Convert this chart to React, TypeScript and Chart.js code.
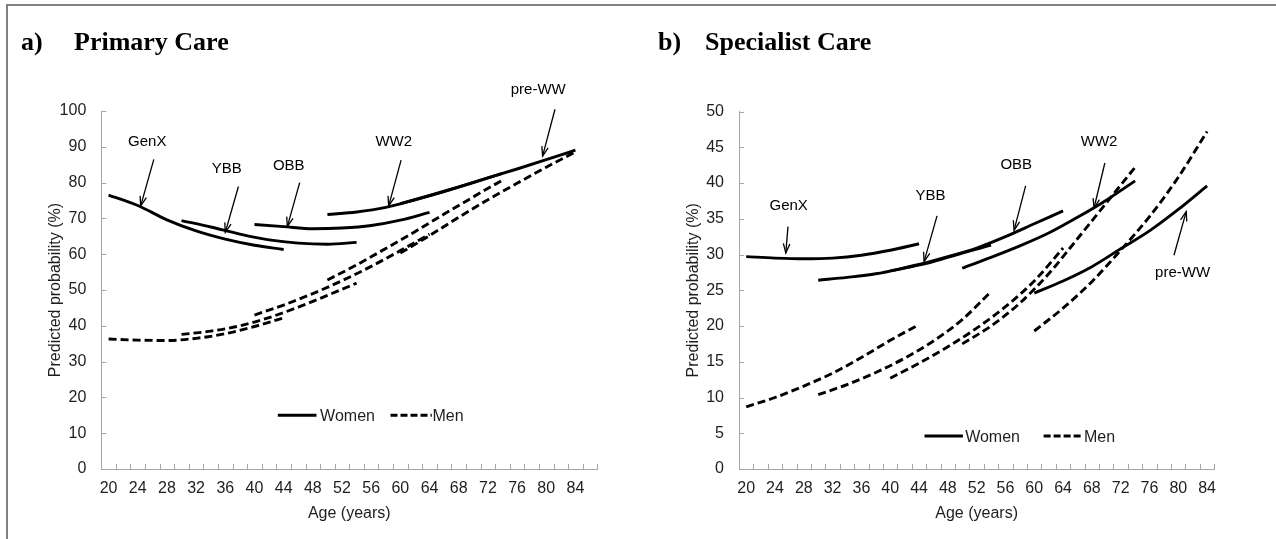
import React, { useEffect, useRef } from "react";
import { Chart, registerables } from "chart.js";
Chart.register(...registerables);

// ---------- data ----------
const COHORTS = ["GenX", "YBB", "OBB", "WW2", "pre-WW"];

const AGES_GENX = [20, 24, 28, 32, 36, 40, 44];
const AGES_YBB = [30, 34, 38, 42, 46, 50, 54];
const AGES_OBB = [40, 44, 48, 52, 56, 60, 64];
const AGES_WW2 = [50, 54, 58, 62, 66, 70, 74];
const AGES_PREWW = [60, 64, 68, 72, 76, 80, 84];

// a) Primary care — women
const PC_WOMEN_GENX = [76.5, 73.6, 69.6, 66.5, 64.2, 62.5, 61.3];
const PC_WOMEN_YBB = [69.4, 67.6, 65.6, 64.0, 63.1, 62.8, 63.3];
const PC_WOMEN_OBB = [68.3, 67.7, 67.1, 67.3, 68.0, 69.5, 71.7];
const PC_WOMEN_WW2 = [71.1, 71.8, 73.1, 75.2, 77.5, 80.0, 82.6];
const PC_WOMEN_PREWW = [74.1, 76.4, 78.8, 81.3, 83.8, 86.4, 89.1];
// a) Primary care — men
const PC_MEN_GENX = [36.3, 36.0, 35.9, 36.5, 37.8, 39.8, 42.2];
const PC_MEN_YBB = [37.6, 38.5, 40.0, 42.3, 45.2, 48.5, 51.9];
const PC_MEN_OBB = [43.0, 45.8, 49.0, 52.6, 56.6, 61.0, 65.6];
const PC_MEN_WW2 = [52.8, 57.0, 61.6, 66.3, 71.2, 76.0, 80.7];
const PC_MEN_PREWW = [60.3, 65.2, 70.3, 75.2, 79.8, 84.3, 88.6];

// b) Specialist care — women
const SC_WOMEN_GENX = [29.7, 29.5, 29.4, 29.5, 29.9, 30.6, 31.5];
const SC_WOMEN_YBB = [26.4, 26.8, 27.3, 28.1, 29.0, 30.2, 31.3];
const SC_WOMEN_OBB = [27.7, 28.6, 29.7, 30.9, 32.5, 34.3, 36.1];
const SC_WOMEN_WW2 = [28.1, 29.6, 31.2, 33.0, 35.2, 37.6, 40.3];
const SC_WOMEN_PREWW = [24.6, 26.3, 28.3, 30.8, 33.3, 36.3, 39.6];
// b) Specialist care — men
const SC_MEN_GENX = [8.7, 10.0, 11.6, 13.4, 15.6, 18.0, 20.2];
const SC_MEN_YBB = [10.4, 11.8, 13.5, 15.5, 17.9, 20.9, 24.8];
const SC_MEN_OBB = [12.7, 14.8, 17.1, 19.7, 22.7, 26.3, 30.9];
const SC_MEN_WW2 = [17.5, 20.0, 23.2, 27.3, 32.2, 37.2, 42.2];
const SC_MEN_PREWW = [19.3, 22.5, 26.2, 30.6, 35.3, 40.8, 47.2];

// axes
const X_TICK_LABELS = [20, 24, 28, 32, 36, 40, 44, 48, 52, 56, 60, 64, 68, 72, 76, 80, 84];
const Y_TICKS_A = [0, 10, 20, 30, 40, 50, 60, 70, 80, 90, 100];
const Y_TICKS_B = [0, 5, 10, 15, 20, 25, 30, 35, 40, 45, 50];

// cohort call-outs: [text age, text value], arrow from -> to (data coordinates)
const ANNOT_A = [
  { text: [25.3, 91.4], from: [26.2, 86.5], to: [24.4, 73.5] },
  { text: [36.2, 83.7], from: [37.8, 78.9], to: [36.0, 66.1] },
  { text: [44.7, 84.6], from: [46.2, 80.0], to: [44.5, 67.7] },
  { text: [59.1, 91.4], from: [60.1, 86.3], to: [58.4, 73.5] },
  { text: [78.9, 105.9], from: [81.2, 100.5], to: [79.5, 87.4] },
];
const ANNOT_B = [
  { text: [25.9, 36.8], from: [25.8, 33.9], to: [25.5, 30.2] },
  { text: [45.6, 38.2], from: [46.5, 35.4], to: [44.7, 29.0] },
  { text: [57.5, 42.5], from: [58.8, 39.6], to: [57.2, 33.4] },
  { text: [69.0, 45.8], from: [69.8, 42.8], to: [68.3, 36.5] },
  { text: [80.6, 27.4], from: [79.4, 29.9], to: [81.1, 36.0] },
];

const AXIS_COLOR = "#a6a6a6";
const TEXT_COLOR = "#1e1e1e";
const SANS = "'Liberation Sans', Arial, sans-serif";
const SERIF = "'Liberation Serif', 'Times New Roman', serif";

type Ann = { text: number[]; from: number[]; to: number[] };
type Spec = {
  women: number[][];
  men: number[][];
  yMax: number;
  yStep: number;
  yTicks: number[];
  xMax: number;
  pad: { left: number; top: number; right: number };
  annots: Ann[];
  legend: { y: number; w: number[]; wText: number; m: number[]; mText: number };
};

const AGES = [AGES_GENX, AGES_YBB, AGES_OBB, AGES_WW2, AGES_PREWW];

function buildDatasets(women: number[][], men: number[][]) {
  const out: any[] = [];
  COHORTS.forEach((c, i) => {
    out.push({
      label: c + " Women",
      data: AGES[i].map((a, j) => ({ x: a, y: women[i][j] })),
      borderColor: "#000",
      borderWidth: 2.9,
      borderDash: [],
      pointRadius: 0,
      fill: false,
      cubicInterpolationMode: "monotone",
    });
    out.push({
      label: c + " Men",
      data: AGES[i].map((a, j) => ({ x: a, y: men[i][j] })),
      borderColor: "#000",
      borderWidth: 2.9,
      borderDash: [8, 4],
      pointRadius: 0,
      fill: false,
      cubicInterpolationMode: "monotone",
    });
  });
  return out;
}

const SPEC_A: Spec = {
  women: [PC_WOMEN_GENX, PC_WOMEN_YBB, PC_WOMEN_OBB, PC_WOMEN_WW2, PC_WOMEN_PREWW],
  men: [PC_MEN_GENX, PC_MEN_YBB, PC_MEN_OBB, PC_MEN_WW2, PC_MEN_PREWW],
  yMax: 100,
  yStep: 10,
  yTicks: Y_TICKS_A,
  xMax: 87,
  pad: { left: 101.3, top: 111, right: 40.7 },
  annots: ANNOT_A,
  legend: { y: 15.0, w: [43.2, 48.5], wText: 49.0, m: [58.65, 64.3], mText: 64.4 },
};

const SPEC_B: Spec = {
  women: [SC_WOMEN_GENX, SC_WOMEN_YBB, SC_WOMEN_OBB, SC_WOMEN_WW2, SC_WOMEN_PREWW],
  men: [SC_MEN_GENX, SC_MEN_YBB, SC_MEN_OBB, SC_MEN_WW2, SC_MEN_PREWW],
  yMax: 50,
  yStep: 5,
  yTicks: Y_TICKS_B,
  xMax: 85,
  pad: { left: 101, top: 111.5, right: 61.7 },
  annots: ANNOT_B,
  legend: { y: 4.6, w: [44.76, 50.1], wText: 50.4, m: [61.3, 66.6], mText: 66.9 },
};

function Panel({ spec, left }: { spec: Spec; left: number }) {
  const ref = useRef<HTMLCanvasElement>(null);
  useEffect(() => {
    const canvas = ref.current!;
    const overlay = {
      id: "overlay",
      afterDraw(chart: any) {
        const { ctx, chartArea } = chart;
        const xs = chart.scales.x;
        const ys = chart.scales.y;
        ctx.save();
        // inside tick marks
        ctx.strokeStyle = AXIS_COLOR;
        ctx.lineWidth = 1;
        ctx.beginPath();
        for (let v = 21; v <= spec.xMax; v += 2) {
          const px = Math.round(xs.getPixelForValue(v)) + 0.5;
          ctx.moveTo(px, chartArea.bottom);
          ctx.lineTo(px, chartArea.bottom - 5);
        }
        for (const v of spec.yTicks) {
          const py = Math.round(ys.getPixelForValue(v)) + 0.5;
          ctx.moveTo(chartArea.left, py);
          ctx.lineTo(chartArea.left + 5, py);
        }
        ctx.stroke();

        // cohort call-outs
        ctx.fillStyle = "#000";
        ctx.strokeStyle = "#000";
        ctx.font = "15px " + SANS;
        ctx.textAlign = "center";
        ctx.textBaseline = "middle";
        ctx.lineWidth = 1.3;
        spec.annots.forEach((a, i) => {
          ctx.fillText(COHORTS[i], xs.getPixelForValue(a.text[0]), ys.getPixelForValue(a.text[1]));
          const x1 = xs.getPixelForValue(a.from[0]);
          const y1 = ys.getPixelForValue(a.from[1]);
          const x2 = xs.getPixelForValue(a.to[0]);
          const y2 = ys.getPixelForValue(a.to[1]);
          ctx.beginPath();
          ctx.moveTo(x1, y1);
          ctx.lineTo(x2, y2);
          ctx.stroke();
          const ang = Math.atan2(y2 - y1, x2 - x1);
          const L = 10;
          const w = 0.33;
          ctx.beginPath();
          ctx.moveTo(x2 - L * Math.cos(ang - w), y2 - L * Math.sin(ang - w));
          ctx.lineTo(x2, y2);
          ctx.lineTo(x2 - L * Math.cos(ang + w), y2 - L * Math.sin(ang + w));
          ctx.stroke();
        });

        // legend
        const lg = spec.legend;
        const ly = ys.getPixelForValue(lg.y);
        ctx.lineWidth = 3;
        ctx.beginPath();
        ctx.setLineDash([]);
        ctx.moveTo(xs.getPixelForValue(lg.w[0]), ly);
        ctx.lineTo(xs.getPixelForValue(lg.w[1]), ly);
        ctx.stroke();
        ctx.beginPath();
        ctx.setLineDash([7, 3]);
        ctx.moveTo(xs.getPixelForValue(lg.m[0]), ly);
        ctx.lineTo(xs.getPixelForValue(lg.m[1]), ly);
        ctx.stroke();
        ctx.setLineDash([]);
        ctx.font = "16px " + SANS;
        ctx.fillStyle = TEXT_COLOR;
        ctx.textAlign = "left";
        ctx.fillText("Women", xs.getPixelForValue(lg.wText), ly + 1);
        ctx.fillText("Men", xs.getPixelForValue(lg.mText), ly + 1);
        ctx.restore();
      },
    };

    const chart = new Chart(canvas, {
      type: "line",
      data: { datasets: buildDatasets(spec.women, spec.men) },
      plugins: [overlay],
      options: {
        responsive: false,
        animation: false,
        events: [],
        layout: { padding: { left: 0, top: spec.pad.top, right: spec.pad.right, bottom: 0 } },
        plugins: { legend: { display: false }, tooltip: { enabled: false } },
        scales: {
          x: {
            type: "linear",
            min: 19,
            max: spec.xMax,
            afterBuildTicks: (s: any) => {
              s.ticks = X_TICK_LABELS.map((v) => ({ value: v }));
            },
            afterFit: (s: any) => {
              s.height = 70;
            },
            grid: { display: false, drawTicks: false },
            border: { display: true, color: AXIS_COLOR, width: 1 },
            ticks: {
              autoSkip: false,
              maxRotation: 0,
              padding: 10,
              color: TEXT_COLOR,
              font: { family: SANS, size: 16 },
              callback: (v: any) => String(v),
            },
            title: {
              display: true,
              text: "Age (years)",
              color: TEXT_COLOR,
              font: { family: SANS, size: 16 },
              padding: { top: 0, bottom: 15.4 },
            },
          },
          y: {
            type: "linear",
            min: 0,
            max: spec.yMax,
            afterFit: (s: any) => {
              s.width = spec.pad.left;
            },
            grid: { display: false, drawTicks: false },
            border: { display: true, color: AXIS_COLOR, width: 1 },
            ticks: {
              stepSize: spec.yStep,
              padding: 15,
              color: TEXT_COLOR,
              font: { family: SANS, size: 16 },
            },
            title: {
              display: true,
              text: "Predicted probability (%)",
              color: TEXT_COLOR,
              font: { family: SANS, size: 16 },
              padding: { top: 46, bottom: 0 },
            },
          },
        },
      } as any,
    });
    return () => chart.destroy();
  }, []);
  return (
    <canvas
      ref={ref}
      width={638}
      height={539}
      style={{ position: "absolute", left, top: 0, width: 638, height: 539 }}
    />
  );
}

const titleStyle: React.CSSProperties = {
  position: "absolute",
  fontFamily: SERIF,
  fontWeight: "bold",
  fontSize: 26,
  lineHeight: "26px",
  color: "#000",
  whiteSpace: "nowrap",
  top: 29,
};

export default function App() {
  return (
    <div
      style={{
        position: "fixed",
        left: 0,
        top: 0,
        width: 1276,
        height: 539,
        background: "#fff",
        overflow: "hidden",
      }}
    >
      <div style={{ position: "absolute", left: 6, top: 4, width: 1270, height: 2, background: "#808080" }} />
      <div style={{ position: "absolute", left: 6, top: 4, width: 2, height: 535, background: "#808080" }} />
      <Panel spec={SPEC_A} left={0} />
      <Panel spec={SPEC_B} left={638} />
      <span style={{ ...titleStyle, left: 21 }}>a)</span>
      <span style={{ ...titleStyle, left: 74 }}>Primary Care</span>
      <span style={{ ...titleStyle, left: 658 }}>b)</span>
      <span style={{ ...titleStyle, left: 705 }}>Specialist Care</span>
    </div>
  );
}
